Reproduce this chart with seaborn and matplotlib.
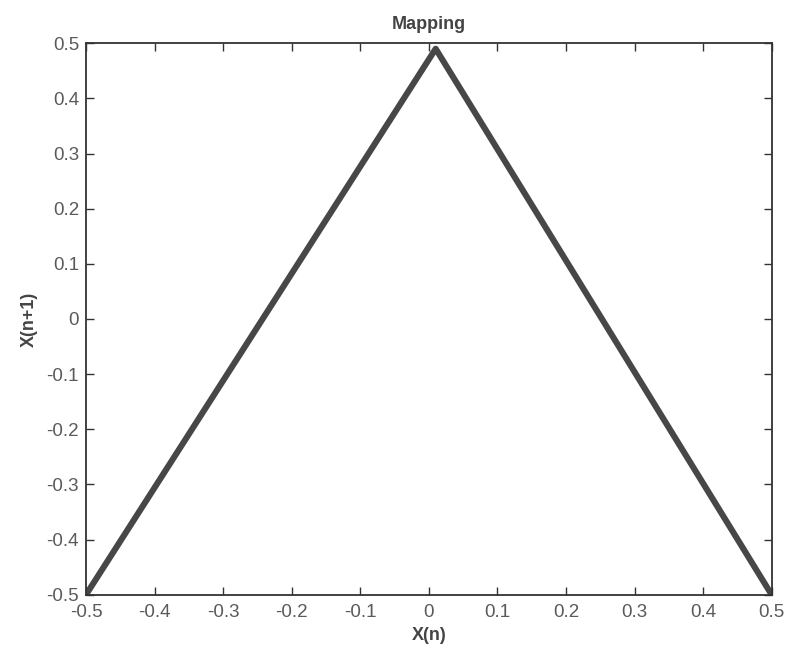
import matplotlib
matplotlib.use("Agg")
import matplotlib.pyplot as plt
import seaborn as sns
import pandas as pd

# Tent-map points: x(n) -> x(n+1)
x_n = [-0.5, 0.01, 0.5]
x_n1 = [-0.5, 0.49, -0.5]

x_ticks = [-0.5, -0.4, -0.3, -0.2, -0.1, 0, 0.1, 0.2, 0.3, 0.4, 0.5]
y_ticks = [-0.5, -0.4, -0.3, -0.2, -0.1, 0, 0.1, 0.2, 0.3, 0.4, 0.5]
x_tick_labels = ["-0.5", "-0.4", "-0.3", "-0.2", "-0.1", "0", "0.1", "0.2", "0.3", "0.4", "0.5"]
y_tick_labels = ["-0.5", "-0.4", "-0.3", "-0.2", "-0.1", "0", "0.1", "0.2", "0.3", "0.4", "0.5"]

sns.set_style("white")
plt.rcParams["font.family"] = ["Liberation Sans", "DejaVu Sans"]

df = pd.DataFrame({"X(n)": x_n, "X(n+1)": x_n1})

fig = plt.figure(figsize=(7.89, 6.55), dpi=100)
ax = fig.add_axes([0.109, 0.092, 0.869, 0.842])

sns.lineplot(data=df, x="X(n)", y="X(n+1)", ax=ax, color="#474747",
             linewidth=4.4, sort=False, estimator=None)

ax.set_xlim(-0.5, 0.5)
ax.set_ylim(-0.5, 0.5)
ax.set_xticks(x_ticks)
ax.set_xticklabels(x_tick_labels)
ax.set_yticks(y_ticks)
ax.set_yticklabels(y_tick_labels)

text_color = "#5a5a5a"
ax.tick_params(direction="in", length=6, width=1, colors="#333333",
               labelcolor=text_color, labelsize=13.5, top=True, right=True,
               bottom=True, left=True)
ax.tick_params(axis="x", pad=7)
ax.tick_params(axis="y", pad=5)
for side in ax.spines.values():
    side.set_color("#333333")
    side.set_linewidth(1.3)

ax.set_title("Mapping", fontsize=13, fontweight="bold", color="#444444", pad=10)
ax.set_xlabel("X(n)", fontsize=13, fontweight="bold", color="#444444", labelpad=4)
ax.set_ylabel("X(n+1)", fontsize=13, fontweight="bold", color="#444444", labelpad=6)

fig.savefig("out.png", dpi=100, facecolor="white")
